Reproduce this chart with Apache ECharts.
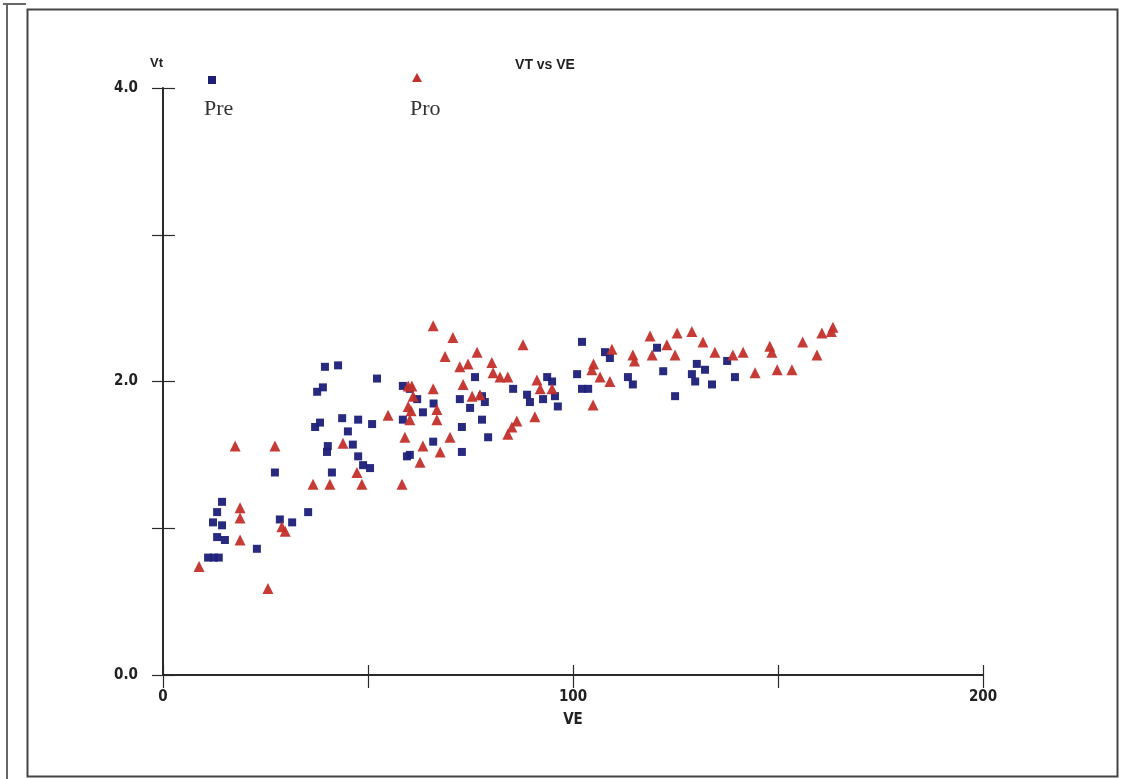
<!DOCTYPE html>
<html>
<head>
<meta charset="utf-8">
<script src="https://cdn.jsdelivr.net/npm/echarts@6/dist/echarts.min.js"></script>
<style>
html,body{margin:0;padding:0;background:#fff;}
#c{width:1121px;height:779px;}
</style>
</head>
<body>
<div id="c"></div>
<script>
// ---- data (VE, Vt) ----
var preData = [
  [11.0,0.80],[12.4,0.80],[13.6,0.80],[13.2,0.94],[15.1,0.92],[14.4,1.02],[12.2,1.04],[13.2,1.11],[14.4,1.18],
  [22.9,0.86],[27.3,1.38],[28.5,1.06],[31.5,1.04],[35.4,1.11],
  [39.5,2.10],[42.7,2.11],[37.6,1.93],[39.0,1.96],[52.2,2.02],
  [37.1,1.69],[38.3,1.72],[43.7,1.75],[47.6,1.74],[51.0,1.71],[45.1,1.66],[46.3,1.57],[40.2,1.56],[40.0,1.52],
  [47.6,1.49],[48.8,1.43],[50.5,1.41],[41.2,1.38],
  [58.5,1.97],[60.2,1.95],[63.4,1.79],[58.5,1.74],[65.9,1.59],[60.2,1.50],[59.5,1.49],[62.0,1.88],[66.0,1.85],
  [76.1,2.03],[72.4,1.88],[74.9,1.82],[77.8,1.90],[78.5,1.86],[77.8,1.74],[72.9,1.69],[79.3,1.62],[72.9,1.52],
  [85.4,1.95],[88.8,1.91],[89.5,1.86],[93.7,2.03],[94.9,2.00],[95.6,1.90],[96.3,1.83],[92.7,1.88],
  [101.0,2.05],[102.2,1.95],[103.7,1.95],[102.2,2.27],[107.8,2.20],[109.0,2.16],[113.4,2.03],[114.6,1.98],
  [120.5,2.23],[122.0,2.07],[124.9,1.90],[129.0,2.05],[130.2,2.12],[132.2,2.08],[133.9,1.98],[129.8,2.00],
  [137.6,2.14],[139.5,2.03]
];
var proData = [
  [8.8,0.74],[17.6,1.56],[18.8,1.14],[18.8,1.07],[18.8,0.92],[25.6,0.59],[27.3,1.56],[29.0,1.01],[29.8,0.98],
  [36.6,1.30],[40.7,1.30],[48.5,1.30],[47.3,1.38],[43.9,1.58],[54.9,1.77],[58.3,1.30],[59.0,1.62],[59.8,1.97],
  [65.9,2.38],[70.7,2.30],[68.8,2.17],[76.6,2.20],[87.8,2.25],[72.4,2.10],[74.4,2.12],[80.2,2.13],[80.5,2.06],
  [82.2,2.03],[84.1,2.03],[60.7,1.97],[65.9,1.95],[73.2,1.98],[75.4,1.90],[77.3,1.91],[59.8,1.83],[66.8,1.81],
  [60.2,1.74],[66.8,1.74],[91.2,2.01],[92.0,1.95],[94.9,1.95],[104.6,2.08],[104.9,1.84],[90.7,1.76],[86.3,1.73],
  [85.1,1.69],[84.1,1.64],[70.0,1.62],[63.4,1.56],[67.6,1.52],[62.7,1.45],[61.0,1.90],[60.5,1.80],
  [105.0,2.12],[106.6,2.03],[109.0,2.00],[109.5,2.22],[114.6,2.18],[115.0,2.14],[118.8,2.31],[119.3,2.18],
  [122.9,2.25],[124.9,2.18],[125.4,2.33],[129.0,2.34],[131.7,2.27],[134.6,2.20],[139.0,2.18],[141.5,2.20],
  [144.4,2.06],[148.0,2.24],[148.5,2.20],[149.8,2.08],[153.4,2.08],[156.0,2.27],[159.5,2.18],[160.7,2.33],
  [163.4,2.37],[163.0,2.34]
];
var xTickLabels = {0:'0', 100:'100', 200:'200'};
var yTickLabels = {0:'0.0', 2:'2.0', 4:'4.0'};
var seriesNames = ['Pre','Pro'];

var narrow = '"Liberation Sans Narrow","DejaVu Sans Condensed","Liberation Sans",Arial,sans-serif';
var axisColor = '#2a2a2a';

var chart = echarts.init(document.getElementById('c'), null, {renderer:'canvas'});
var option = {
  backgroundColor:'#fff',
  animation:false,
  title:{
    text:'VT vs VE', left:540, top:53, textAlign:'center',
    textStyle:{fontFamily:'"Liberation Sans",Arial,sans-serif', fontWeight:'bold', fontSize:14, color:'#222'}
  },
  grid:{left:163, right:138, top:88, bottom:104, containLabel:false},
  xAxis:[{
    type:'value', min:0, max:200, interval:50,
    name:'VE', nameLocation:'middle', nameGap:38,
    nameTextStyle:{fontFamily:narrow, fontWeight:'bold', fontSize:15, color:'#222'},
    axisLine:{show:true, lineStyle:{color:axisColor, width:2}},
    axisTick:{show:true, inside:false, length:13, lineStyle:{color:axisColor, width:1.2}},
    axisLabel:{margin:15, fontFamily:narrow, fontWeight:'bold', fontSize:15, color:'#222',
      formatter:function(v){return xTickLabels[v]!==undefined ? xTickLabels[v] : '';}},
    splitLine:{show:false}
  },{
    type:'value', min:0, max:200, interval:50, position:'bottom',
    axisLine:{show:false},
    axisTick:{show:true, inside:true, length:10, lineStyle:{color:axisColor, width:1.2}},
    axisLabel:{show:false}, splitLine:{show:false}
  }],
  yAxis:[{
    type:'value', min:0, max:4, interval:1,
    name:'Vt', nameLocation:'end', nameGap:18,
    nameTextStyle:{fontFamily:'"Liberation Sans",Arial,sans-serif', fontWeight:'bold', fontSize:13, color:'#222', align:'right'},
    axisLine:{show:true, lineStyle:{color:axisColor, width:2}},
    axisTick:{show:true, inside:false, length:11, lineStyle:{color:axisColor, width:1.2}},
    axisLabel:{margin:25, fontFamily:narrow, fontWeight:'bold', fontSize:15, color:'#222',
      formatter:function(v){return yTickLabels[v]!==undefined ? yTickLabels[v] : '';}},
    splitLine:{show:false}
  },{
    type:'value', min:0, max:4, interval:1, position:'left',
    axisLine:{show:false},
    axisTick:{show:true, inside:true, length:12, lineStyle:{color:axisColor, width:1.2}},
    axisLabel:{show:false}, splitLine:{show:false}
  }],
  series:[
    {name:seriesNames[0], type:'scatter', data:preData, symbol:'rect', symbolSize:8,
     itemStyle:{color:'#1c1f78', opacity:0.95}, z:3},
    {name:seriesNames[1], type:'scatter', data:proData, symbol:'triangle', symbolSize:11,
     itemStyle:{color:'#c3302b', opacity:0.95}, z:4}
  ],
  graphic:[
    {type:'rect', left:25, top:7, shape:{width:1090, height:767}, style:{fill:null, stroke:'#444', lineWidth:2}, silent:true},
    {type:'line', shape:{x1:7, y1:3, x2:7, y2:779}, style:{stroke:'#666', lineWidth:2}, silent:true},
    {type:'line', shape:{x1:3, y1:4, x2:26, y2:4}, style:{stroke:'#666', lineWidth:2}, silent:true},
    {type:'rect', shape:{x:208, y:76, width:8, height:8}, style:{fill:'#1c1f78'}, silent:true},
    {type:'text', x:204, y:98, style:{text:seriesNames[0], font:'22px "Liberation Serif","DejaVu Serif",serif', fill:'#333'}, silent:true},
    {type:'polygon', shape:{points:[[417,73],[412,82],[422,82]]}, style:{fill:'#c3302b'}, silent:true},
    {type:'text', x:410, y:98, style:{text:seriesNames[1], font:'22px "Liberation Serif","DejaVu Serif",serif', fill:'#333'}, silent:true}
  ]
};
chart.setOption(option);
</script>
</body>
</html>
